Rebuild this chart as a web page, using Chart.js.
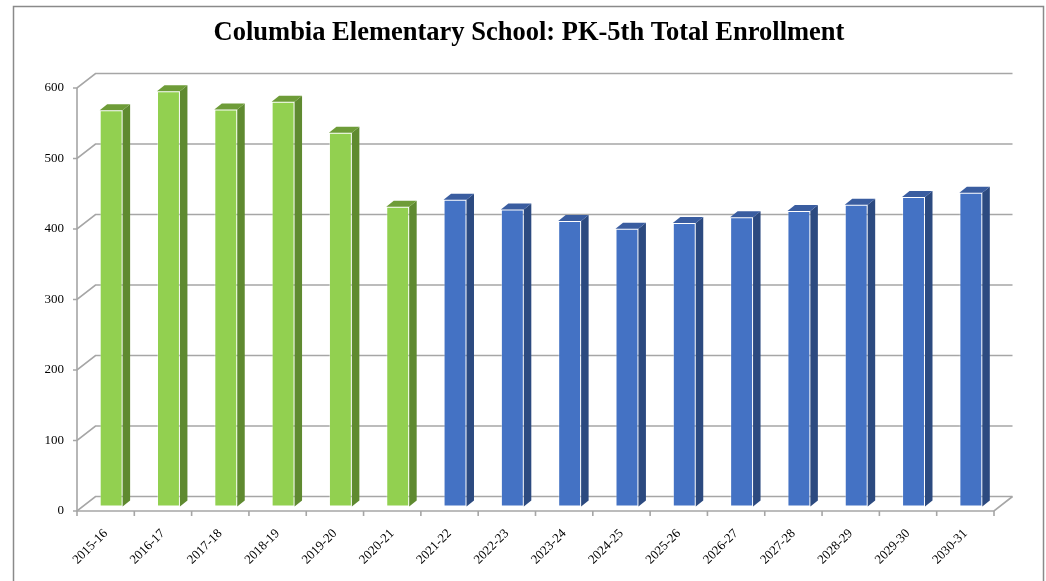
<!DOCTYPE html>
<html>
<head>
<meta charset="utf-8">
<script src="https://cdn.jsdelivr.net/npm/chart.js@4"></script>
<style>
  body { margin: 0; background: #fff; }
  #chart { display: block; }
</style>
</head>
<body>
<canvas id="chart" width="1046" height="581"></canvas>
<script>
const school_years = [
  "2015-16", "2016-17", "2017-18", "2018-19", "2019-20", "2020-21",
  "2021-22", "2022-23", "2023-24", "2024-25", "2025-26", "2026-27",
  "2027-28", "2028-29", "2029-30", "2030-31"
];
const enrollment = [
  562, 589, 563, 574, 530, 425,
  435, 421, 405, 394, 402, 410, 419, 428, 439, 445
];
// first six are actual counts (green), the rest projected (blue)
const actual_count = 6;
const y_ticks = [0, 100, 200, 300, 400, 500, 600];
const chart_title = "Columbia Elementary School: PK-5th Total Enrollment";

const front_colours = school_years.map((y, i) => i < actual_count ? "#92d050" : "#4472c4");
const side_colours = school_years.map((y, i) => i < actual_count ? "#5f8a30" : "#2c4a80");
const top_colours = school_years.map((y, i) => i < actual_count ? "#6e9c38" : "#3a5da0");

// depth offsets for the pseudo 3d look
const WALL_DX = 18.5, WALL_DY = 14.5;
const BAR_SHIFT_X = 5.5, BAR_SHIFT_Y = -4.6;
const BAR_DX = 7.5, BAR_DY = 6;

const frame3d = {
  id: "frame3d",
  beforeDraw(chart) {
    const ctx = chart.ctx;
    ctx.save();
    ctx.strokeStyle = "#8a8a8a";
    ctx.lineWidth = 1.5;
    ctx.strokeRect(13.5, 6.5, 1030, 620);
    ctx.fillStyle = "#000";
    ctx.font = "bold 26.5px 'Liberation Serif'";
    ctx.textAlign = "center";
    ctx.textBaseline = "middle";
    ctx.fillText(chart_title, 529, 33);
    ctx.restore();
  },
  beforeDatasetsDraw(chart) {
    const ctx = chart.ctx;
    const ys = chart.scales.y;
    const L = chart.chartArea.left, R = chart.chartArea.right;
    const y0 = ys.getPixelForValue(0), yTop = ys.getPixelForValue(600);
    ctx.save();
    ctx.strokeStyle = "#a6a6a6";
    ctx.lineWidth = 1.6;
    y_ticks.forEach((v) => {
      const y = ys.getPixelForValue(v);
      ctx.beginPath();
      ctx.moveTo(L - 4, y);
      ctx.lineTo(L, y);
      ctx.lineTo(L + WALL_DX, y - WALL_DY);
      ctx.lineTo(R + WALL_DX, y - WALL_DY);
      ctx.stroke();
    });
    ctx.beginPath();
    ctx.moveTo(L, yTop);
    ctx.lineTo(L, y0);
    ctx.lineTo(R, y0);
    ctx.lineTo(R + WALL_DX, y0 - WALL_DY);
    ctx.stroke();
    const cw = (R - L) / school_years.length;
    ctx.beginPath();
    for (let i = 0; i <= school_years.length; i++) {
      const x = L + i * cw;
      ctx.moveTo(x, y0);
      ctx.lineTo(x, y0 + 5);
    }
    ctx.stroke();
    ctx.restore();

    // shift the bars back into the floor
    ctx.save();
    ctx.translate(BAR_SHIFT_X, BAR_SHIFT_Y);
  },
  afterDatasetsDraw(chart) {
    const ctx = chart.ctx;
    const meta = chart.getDatasetMeta(0);
    meta.data.forEach((bar, i) => {
      const half = bar.width / 2;
      const l = bar.x - half, r = bar.x + half;
      ctx.fillStyle = side_colours[i];
      ctx.beginPath();
      ctx.moveTo(r, bar.y);
      ctx.lineTo(r + BAR_DX, bar.y - BAR_DY);
      ctx.lineTo(r + BAR_DX, bar.base - BAR_DY);
      ctx.lineTo(r, bar.base);
      ctx.closePath();
      ctx.fill();
      ctx.fillStyle = top_colours[i];
      ctx.beginPath();
      ctx.moveTo(l, bar.y);
      ctx.lineTo(l + BAR_DX, bar.y - BAR_DY);
      ctx.lineTo(r + BAR_DX, bar.y - BAR_DY);
      ctx.lineTo(r, bar.y);
      ctx.closePath();
      ctx.fill();
    });
    ctx.restore();
  }
};

new Chart(document.getElementById("chart"), {
  type: "bar",
  data: {
    labels: school_years,
    datasets: [{
      data: enrollment,
      backgroundColor: front_colours,
      borderColor: "rgba(255,255,255,0.35)",
      borderWidth: 1,
      borderSkipped: false,
      categoryPercentage: 1,
      barPercentage: 0.4,
      clip: false
    }]
  },
  options: {
    responsive: false,
    animation: false,
    layout: { padding: { left: 0, right: 52, top: 88, bottom: 0 } },
    plugins: {
      legend: { display: false },
      tooltip: { enabled: false },
      title: { display: false }
    },
    scales: {
      x: {
        grid: { display: false, drawTicks: false },
        border: { display: false },
        ticks: {
          color: "#000",
          font: { family: "Liberation Serif", size: 13 },
          minRotation: 45,
          maxRotation: 45,
          padding: 15
        },
        afterFit(scale) { scale.height = 70; }
      },
      y: {
        min: 0,
        max: 600,
        grid: { display: false, drawTicks: false },
        border: { display: false },
        ticks: {
          stepSize: 100,
          color: "#000",
          font: { family: "Liberation Serif", size: 13 },
          padding: 13
        },
        afterFit(scale) { scale.width = 77; }
      }
    }
  },
  plugins: [frame3d]
});
</script>
</body>
</html>
